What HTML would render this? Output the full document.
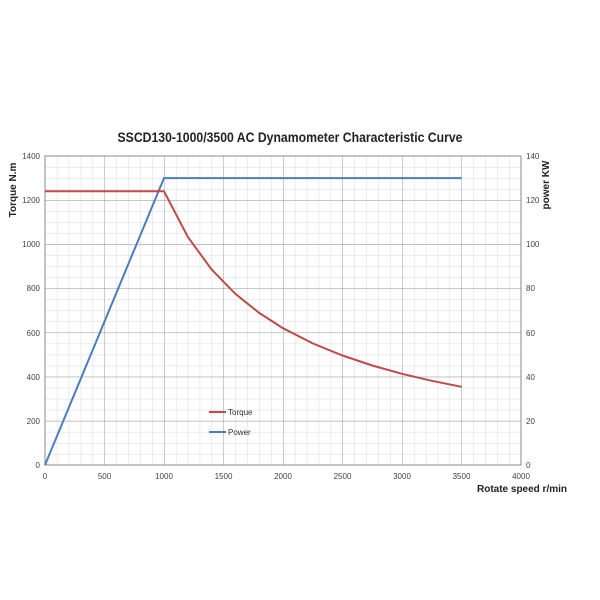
<!DOCTYPE html>
<html><head><style>
body{margin:0;background:#fff;}
svg{display:block;font-family:"Liberation Sans",sans-serif;}
</style></head><body>
<svg width="600" height="600" viewBox="0 0 600 600">
<defs>
<pattern id="minor" x="45" y="156" width="11.9" height="11.0357" patternUnits="userSpaceOnUse">
<path d="M0 0V11.0357M0 0H11.9" stroke="#d8d8d8" stroke-width="1" fill="none"/>
</pattern>
<pattern id="major" x="45" y="156" width="59.5" height="44.143" patternUnits="userSpaceOnUse">
<path d="M0 0V44.143M0 0H59.5" stroke="#9a9a9a" stroke-width="1" fill="none"/>
</pattern>
</defs>
<text x="290" y="142" text-anchor="middle" font-size="14" font-weight="bold" fill="#222" textLength="345" lengthAdjust="spacingAndGlyphs">SSCD130-1000/3500 AC Dynamometer Characteristic Curve</text>
<rect x="45" y="156" width="476" height="309" fill="url(#minor)"/>
<rect x="45" y="156" width="476" height="309" fill="url(#major)"/>
<rect x="45" y="156" width="476" height="309" fill="none" stroke="#888"/>
<g font-size="8" fill="#444" text-anchor="end">
<text x="40" y="468">0</text><text x="40" y="424">200</text><text x="40" y="380">400</text><text x="40" y="336">600</text><text x="40" y="291">800</text><text x="40" y="247">1000</text><text x="40" y="203">1200</text><text x="40" y="159">1400</text>
</g>
<g font-size="8" fill="#444">
<text x="526" y="468">0</text><text x="526" y="424">20</text><text x="526" y="380">40</text><text x="526" y="336">60</text><text x="526" y="291">80</text><text x="526" y="247">100</text><text x="526" y="203">120</text><text x="526" y="159">140</text>
</g>
<g font-size="8" fill="#444" text-anchor="middle">
<text x="45" y="479">0</text><text x="104.5" y="479">500</text><text x="164" y="479">1000</text><text x="223.5" y="479">1500</text><text x="283" y="479">2000</text><text x="342.5" y="479">2500</text><text x="402" y="479">3000</text><text x="461.5" y="479">3500</text><text x="521" y="479">4000</text>
</g>
<text x="522" y="492" text-anchor="middle" font-size="10" font-weight="bold" fill="#222">Rotate speed r/min</text>
<text transform="translate(16,190) rotate(-90)" text-anchor="middle" font-size="10" font-weight="bold" fill="#222">Torque N.m</text>
<text transform="translate(549,185) rotate(-90)" text-anchor="middle" font-size="10" font-weight="bold" fill="#222">power KW</text>
<polyline points="45,465 164,178.1 461.5,178.1" fill="none" stroke="#4a7ebb" stroke-width="2"/>
<polyline points="45,191.3 164,191.3 187.8,236.9 211.6,269.5 235.4,293.9 259.2,312.9 283,328.2 312.75,343.4 342.5,355.5 372.25,365.5 402,373.8 431.75,380.8 461.5,386.8" fill="none" stroke="#be4b48" stroke-width="2"/>
<line x1="209" y1="412" x2="226" y2="412" stroke="#be4b48" stroke-width="2"/>
<text x="228" y="415" font-size="8" fill="#333">Torque</text>
<line x1="209" y1="432" x2="226" y2="432" stroke="#4a7ebb" stroke-width="2"/>
<text x="228" y="435" font-size="8" fill="#333">Power</text>
</svg>
</body></html>
